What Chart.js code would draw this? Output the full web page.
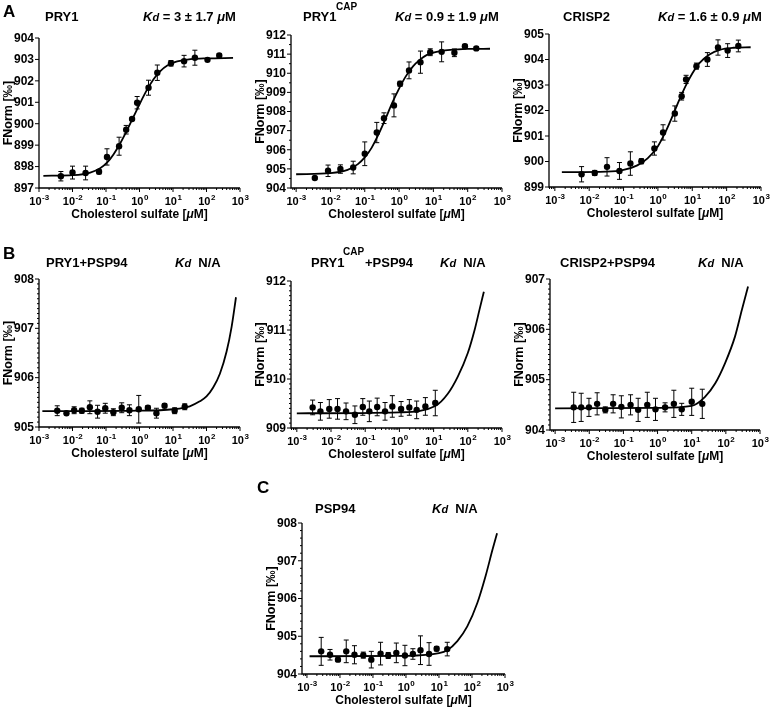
<!DOCTYPE html>
<html>
<head>
<meta charset="utf-8">
<script src="https://cdn.jsdelivr.net/npm/chart.js@4.4.0/dist/chart.umd.min.js"></script>
<style>
  body { margin: 0; background: #fff; }
  #fig { position: relative; width: 777px; height: 707px; overflow: hidden;
         font-family: "Liberation Sans", Arial, Helvetica, sans-serif; font-weight: bold; color: #000; }
  #fig canvas { position: absolute; left: 0; top: 0; }
  .t { position: absolute; white-space: nowrap; font-size: 13px; line-height: 16px; z-index: 5; }
  .t.sup { font-size: 10px; line-height: 12px; }
  .t.lt { font-size: 17px; line-height: 20px; }
  .t i { font-style: italic; }
  .t .s { font-size: 11px; }
</style>
</head>
<body>
<div id="fig"></div>
<script>
// x ticks are decades of cholesterol sulfate (uM)
const xTickExps = [-3, -2, -1, 0, 1, 2, 3];

// A: PRY1
const a1Conc = [0.0045, 0.0100, 0.0246, 0.062, 0.107, 0.246, 0.40, 0.60, 0.85, 1.86, 3.4, 8.7, 21.4, 45, 107, 240];
const a1FNorm = [897.55, 897.72, 897.70, 897.76, 898.45, 898.95, 899.72, 900.22, 900.98, 901.68, 902.38, 902.82, 902.92, 903.08, 902.98, 903.18];
const a1Err = [0.22, 0.30, 0.32, 0.10, 0.38, 0.42, 0.20, 0.05, 0.29, 0.35, 0.36, 0.13, 0.27, 0.35, 0.04, 0.08];
const a1CurveConc = [0.00135, 0.0107, 0.0338, 0.067, 0.107, 0.169, 0.269, 0.426, 0.675, 1.07, 1.70, 2.69, 4.26, 6.75, 10.7, 33.8, 107, 620];
const a1CurveFNorm = [897.57, 897.60, 897.72, 897.92, 898.18, 898.58, 899.10, 899.70, 900.35, 901.00, 901.60, 902.10, 902.47, 902.72, 902.86, 903.01, 903.05, 903.07];
const a1YTicks = [897, 898, 899, 900, 901, 902, 903, 904];

// A: PRY1 CAP
const a2Conc = [0.0035, 0.0085, 0.0195, 0.046, 0.10, 0.224, 0.363, 0.71, 1.07, 1.95, 4.2, 8.1, 17.4, 41, 83, 178];
const a2FNorm = [904.52, 904.90, 904.99, 905.07, 905.79, 906.90, 907.65, 908.32, 909.45, 910.15, 910.58, 911.10, 911.12, 911.07, 911.41, 911.30];
const a2Err = [0.06, 0.30, 0.22, 0.33, 0.62, 0.53, 0.28, 0.60, 0.13, 0.44, 0.58, 0.18, 0.52, 0.20, 0.10, 0.08];
const a2CurveConc = [0.001, 0.01, 0.0316, 0.063, 0.1, 0.158, 0.251, 0.398, 0.631, 1, 1.585, 2.51, 3.98, 6.31, 10, 31.6, 100, 447];
const a2CurveFNorm = [904.72, 904.78, 904.95, 905.25, 905.60, 906.10, 906.80, 907.60, 908.45, 909.20, 909.85, 910.35, 910.70, 910.95, 911.08, 911.22, 911.27, 911.28];
const a2YTicks = [904, 905, 906, 907, 908, 909, 910, 911, 912];

// A: CRISP2
const a3Conc = [0.006, 0.0145, 0.033, 0.076, 0.158, 0.33, 0.79, 1.41, 3.1, 4.9, 6.6, 13.2, 27.5, 56, 107, 219];
const a3FNorm = [899.50, 899.55, 899.79, 899.63, 899.92, 900.01, 900.51, 901.14, 901.88, 902.56, 903.22, 903.74, 904.00, 904.47, 904.35, 904.53];
const a3Err = [0.30, 0.10, 0.36, 0.33, 0.46, 0.10, 0.26, 0.30, 0.30, 0.15, 0.16, 0.12, 0.27, 0.30, 0.27, 0.23];
const a3CurveConc = [0.0016, 0.0316, 0.1, 0.251, 0.5, 1, 1.585, 2.51, 3.98, 6.31, 10, 15.85, 31.6, 63, 158, 500];
const a3CurveFNorm = [899.58, 899.60, 899.67, 899.85, 900.12, 900.60, 901.10, 901.70, 902.35, 902.95, 903.45, 903.85, 904.20, 904.38, 904.46, 904.48];
const a3YTicks = [899, 900, 901, 902, 903, 904, 905];

// B: PRY1+PSP94
const b1Conc = [0.0035, 0.0066, 0.0112, 0.019, 0.033, 0.056, 0.095, 0.166, 0.295, 0.5, 0.95, 1.78, 3.2, 5.6, 11.2, 22.4];
const b1FNorm = [905.33, 905.28, 905.34, 905.33, 905.40, 905.31, 905.38, 905.30, 905.39, 905.34, 905.36, 905.39, 905.28, 905.43, 905.33, 905.41];
const b1Err = [0.10, 0.03, 0.07, 0.05, 0.13, 0.13, 0.10, 0.07, 0.10, 0.11, 0.28, 0.04, 0.10, 0.04, 0.06, 0.06];
const b1CurveConc = [0.00126, 1, 10, 31.6, 63, 100, 158, 251, 398, 562, 760];
const b1CurveFNorm = [905.32, 905.33, 905.36, 905.42, 905.52, 905.62, 905.80, 906.08, 906.53, 907.03, 907.63];
const b1YTicks = [905, 906, 907, 908];

// B: PRY1 CAP+PSP94
const b2Conc = [0.0029, 0.0049, 0.0089, 0.0155, 0.0275, 0.05, 0.085, 0.132, 0.224, 0.38, 0.62, 1.12, 1.95, 3.2, 5.75, 11.2];
const b2FNorm = [909.42, 909.34, 909.39, 909.39, 909.34, 909.27, 909.43, 909.34, 909.43, 909.34, 909.44, 909.39, 909.42, 909.37, 909.44, 909.51];
const b2Err = [0.15, 0.18, 0.19, 0.21, 0.17, 0.18, 0.17, 0.21, 0.18, 0.18, 0.22, 0.15, 0.16, 0.18, 0.18, 0.26];
const b2CurveConc = [0.001, 1, 11.2, 26, 51, 100, 158, 219, 295];
const b2CurveFNorm = [909.30, 909.32, 909.45, 909.70, 910.05, 910.53, 911.00, 911.41, 911.78];
const b2YTicks = [909, 910, 911, 912];

// B: CRISP2+PSP94
const b3Conc = [0.0035, 0.0058, 0.0098, 0.017, 0.0295, 0.05, 0.087, 0.162, 0.27, 0.5, 0.87, 1.66, 3.0, 5.1, 10, 20.4];
const b3FNorm = [904.45, 904.45, 904.45, 904.52, 904.40, 904.52, 904.46, 904.50, 904.40, 904.50, 904.41, 904.45, 904.52, 904.41, 904.56, 904.52];
const b3Err = [0.30, 0.28, 0.18, 0.22, 0.06, 0.18, 0.22, 0.20, 0.23, 0.25, 0.22, 0.09, 0.27, 0.12, 0.27, 0.29];
const b3CurveConc = [0.001, 1, 10, 24.5, 49, 95, 186, 295, 447];
const b3CurveFNorm = [904.43, 904.44, 904.48, 904.66, 904.93, 905.33, 905.86, 906.39, 906.85];
const b3YTicks = [904, 905, 906, 907];

// C: PSP94
const cConc = [0.0027, 0.005, 0.0087, 0.0155, 0.0275, 0.051, 0.089, 0.17, 0.29, 0.51, 0.93, 1.62, 2.75, 5.0, 8.5, 17.8];
const cFNorm = [904.60, 904.51, 904.38, 904.60, 904.51, 904.50, 904.38, 904.54, 904.49, 904.56, 904.49, 904.53, 904.63, 904.53, 904.67, 904.66];
const cErr = [0.37, 0.14, 0.05, 0.30, 0.24, 0.08, 0.22, 0.30, 0.08, 0.26, 0.27, 0.14, 0.38, 0.30, 0.06, 0.18];
const cCurveConc = [0.0012, 1, 10, 17.8, 36, 72, 145, 257, 417, 575];
const cCurveFNorm = [904.47, 904.48, 904.55, 904.63, 904.87, 905.26, 905.88, 906.59, 907.29, 907.73];
const cYTicks = [904, 905, 906, 907, 908];

const FONT = '"Liberation Sans", Arial, Helvetica, sans-serif';
const W = 777, H = 707;

// plot boxes: [left, top, right, bottom] in page px
const panels = [
  { conc: a1Conc, y: a1FNorm, err: a1Err, cx: a1CurveConc, cy: a1CurveFNorm, ticks: a1YTicks, minor: 0,   box: [39, 38, 240, 188],  xLo: -3.0 },
  { conc: a2Conc, y: a2FNorm, err: a2Err, cx: a2CurveConc, cy: a2CurveFNorm, ticks: a2YTicks, minor: 0.5, box: [291, 35, 502, 188], xLo: -3.15 },
  { conc: a3Conc, y: a3FNorm, err: a3Err, cx: a3CurveConc, cy: a3CurveFNorm, ticks: a3YTicks, minor: 0,   box: [549, 34, 761, 187], xLo: -3.17 },
  { conc: b1Conc, y: b1FNorm, err: b1Err, cx: b1CurveConc, cy: b1CurveFNorm, ticks: b1YTicks, minor: 0.1, box: [39, 279, 240, 427], xLo: -3.0 },
  { conc: b2Conc, y: b2FNorm, err: b2Err, cx: b2CurveConc, cy: b2CurveFNorm, ticks: b2YTicks, minor: 0.1, box: [291, 281, 502, 428], xLo: -3.17 },
  { conc: b3Conc, y: b3FNorm, err: b3Err, cx: b3CurveConc, cy: b3CurveFNorm, ticks: b3YTicks, minor: 0.1, box: [550, 279, 760, 430], xLo: -3.15 },
  { conc: cConc,  y: cFNorm,  err: cErr,  cx: cCurveConc,  cy: cCurveFNorm,  ticks: cYTicks,  minor: 0.2, box: [302, 523, 505, 674], xLo: -3.15 }
];

function drawPow(ctx, cx, top, exp) {
  ctx.font = 'bold 11px ' + FONT;
  const w1 = ctx.measureText('10').width;
  ctx.font = 'bold 8px ' + FONT;
  const w2 = ctx.measureText(exp).width;
  const x0 = cx - (w1 + w2) / 2;
  ctx.textAlign = 'left';
  ctx.textBaseline = 'alphabetic';
  ctx.font = 'bold 11px ' + FONT;
  ctx.fillText('10', x0, top + 17);
  ctx.font = 'bold 8px ' + FONT;
  ctx.fillText(exp, x0 + w1 + 0.5, top + 12);
}

const framePlugin = {
  id: 'frame',
  beforeDatasetsDraw(chart, args, o) {
    const { ctx, chartArea: a, scales: { x, y } } = chart;
    ctx.save();
    ctx.strokeStyle = '#000';
    ctx.fillStyle = '#000';

    // error bars
    ctx.lineWidth = 1;
    const ds = chart.data.datasets[1];
    ds.data.forEach((p, i) => {
      const e = o.err[i];
      const px = x.getPixelForValue(p.x);
      const y1 = y.getPixelForValue(p.y + e), y2 = y.getPixelForValue(p.y - e);
      ctx.beginPath();
      ctx.moveTo(px, y1); ctx.lineTo(px, y2);
      ctx.moveTo(px - 2.5, y1); ctx.lineTo(px + 2.5, y1);
      ctx.moveTo(px - 2.5, y2); ctx.lineTo(px + 2.5, y2);
      ctx.stroke();
    });

    // axis lines
    ctx.lineWidth = 1.3;
    ctx.beginPath();
    ctx.moveTo(a.left, a.top);
    ctx.lineTo(a.left, a.bottom);
    ctx.lineTo(a.right, a.bottom);
    ctx.stroke();

    // y ticks + labels
    ctx.lineWidth = 1;
    ctx.font = 'bold 12px ' + FONT;
    ctx.textAlign = 'right';
    ctx.textBaseline = 'middle';
    o.ticks.forEach(v => {
      const py = y.getPixelForValue(v);
      ctx.beginPath(); ctx.moveTo(a.left - 4, py); ctx.lineTo(a.left, py); ctx.stroke();
      ctx.fillText(String(v), a.left - 5, py + 0.5);
    });
    if (o.minor) {
      const n = Math.round((y.max - y.min) / o.minor);
      for (let k = 1; k < n; k++) {
        const v = y.min + k * o.minor;
        if (Math.abs(v - Math.round(v)) < 1e-6) continue;
        const py = y.getPixelForValue(v);
        ctx.beginPath(); ctx.moveTo(a.left - 2, py); ctx.lineTo(a.left, py); ctx.stroke();
      }
    }

    // x ticks (log decades with minor ticks)
    for (let e = -4; e <= 3; e++) {
      for (let m = 1; m <= 9; m++) {
        const v = m * Math.pow(10, e);
        if (v < x.min * 0.999 || v > x.max * 1.001) continue;
        const px = x.getPixelForValue(v);
        const len = m === 1 ? 4 : 2;
        ctx.beginPath(); ctx.moveTo(px, a.bottom); ctx.lineTo(px, a.bottom + len); ctx.stroke();
      }
    }
    xTickExps.forEach(e => {
      const px = x.getPixelForValue(Math.pow(10, e));
      drawPow(ctx, px, a.bottom, String(e));
    });

    // x title with italic mu
    const parts = [['Cholesterol sulfate [', 'bold '], ['\u03bc', 'italic bold '], ['M]', 'bold ']];
    let tw = 0;
    parts.forEach(p => { ctx.font = p[1] + '12px ' + FONT; p.w = ctx.measureText(p[0]).width; tw += p.w; });
    let tx = (a.left + a.right) / 2 - tw / 2;
    ctx.textAlign = 'left';
    ctx.textBaseline = 'alphabetic';
    parts.forEach(p => { ctx.font = p[1] + '12px ' + FONT; ctx.fillText(p[0], tx, a.bottom + 30); tx += p.w; });

    // y title
    ctx.save();
    ctx.translate(a.left - 30, (a.top + a.bottom) / 2);
    ctx.rotate(-Math.PI / 2);
    ctx.font = 'bold 12.5px ' + FONT;
    ctx.textAlign = 'center';
    ctx.textBaseline = 'middle';
    ctx.fillText('FNorm [\u2030]', 0, 0);
    ctx.restore();

    ctx.restore();
  }
};

const fig = document.getElementById('fig');

panels.forEach(p => {
  const cv = document.createElement('canvas');
  cv.width = W; cv.height = H;
  fig.appendChild(cv);
  const [L, T, R, B] = p.box;
  new Chart(cv, {
    type: 'scatter',
    data: {
      datasets: [
        {
          type: 'line',
          data: p.cx.map((c, i) => ({ x: c, y: p.cy[i] })),
          borderColor: '#000',
          borderWidth: 1.8,
          pointRadius: 0,
          fill: false,
          cubicInterpolationMode: 'monotone'
        },
        {
          type: 'scatter',
          data: p.conc.map((c, i) => ({ x: c, y: p.y[i] })),
          backgroundColor: '#000',
          borderColor: '#000',
          borderWidth: 0,
          pointRadius: 3.2
        }
      ]
    },
    options: {
      responsive: false,
      animation: false,
      events: [],
      layout: { padding: { left: L, top: T, right: W - R, bottom: H - B } },
      scales: {
        x: { type: 'logarithmic', display: false, min: Math.pow(10, p.xLo), max: 1000 },
        y: { type: 'linear', display: false, min: p.ticks[0], max: p.ticks[p.ticks.length - 1] }
      },
      plugins: {
        legend: { display: false },
        tooltip: { enabled: false },
        frame: { err: p.err, ticks: p.ticks, minor: p.minor }
      }
    },
    plugins: [framePlugin]
  });
});

// panel letters and titles
const kd = v => '<i>K<span class="s">d</span></i> = ' + v + ' <i>\u03bc</i>M';
const na = '<i>K<span class="s">d</span></i>&nbsp; N/A';
const texts = [
  [3, 12, 'lt', 'A'],
  [45, 17, '', 'PRY1'],
  [143, 17, '', kd('3 \u00b1 1.7')],
  [303, 17, '', 'PRY1'],
  [336, 7, 'sup', 'CAP'],
  [395, 17, '', kd('0.9 \u00b1 1.9')],
  [563, 17, '', 'CRISP2'],
  [658, 17, '', kd('1.6 \u00b1 0.9')],
  [3, 254, 'lt', 'B'],
  [46, 263, '', 'PRY1+PSP94'],
  [175, 263, '', na],
  [311, 263, '', 'PRY1'],
  [343, 252, 'sup', 'CAP'],
  [365, 263, '', '+PSP94'],
  [440, 263, '', na],
  [560, 263, '', 'CRISP2+PSP94'],
  [698, 263, '', na],
  [257, 488, 'lt', 'C'],
  [315, 509, '', 'PSP94'],
  [432, 509, '', na]
];
texts.forEach(([x, y, cls, html]) => {
  const d = document.createElement('div');
  d.className = 't ' + cls;
  d.innerHTML = html;
  const lh = cls === 'lt' ? 20 : cls === 'sup' ? 12 : 16;
  d.style.left = x + 'px';
  d.style.top = (y - lh / 2) + 'px';
  fig.appendChild(d);
});
</script>
</body>
</html>
